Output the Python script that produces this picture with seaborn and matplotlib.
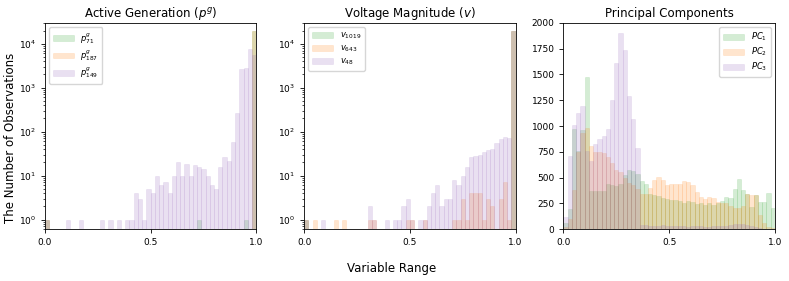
import numpy as np
import pandas as pd
import seaborn as sns
import matplotlib
matplotlib.use("Agg")
import matplotlib.pyplot as plt
from matplotlib.colors import to_rgba

# 50 equal bins on [0, 1], counts
n_bins = 50
edges = np.linspace(0, 1, n_bins + 1)
centers = (edges[:-1] + edges[1:]) / 2


def sparse(d):
    out = np.zeros(n_bins)
    for k, v in d.items():
        out[k] = v
    return out


# Active generation
gen_p71 = sparse({0: 1, 36: 1, 47: 1, 49: 19997})
gen_p187 = sparse({0: 1, 49: 19999})
gen_p149 = sparse({0: 1, 5: 1, 8: 1, 13: 1, 15: 1, 17: 1, 19: 1, 20: 1, 21: 4, 22: 3,
                   23: 1, 24: 5, 25: 4, 26: 10, 27: 6, 28: 7, 29: 4, 30: 10, 31: 20,
                   32: 10, 33: 18, 34: 10, 35: 17, 36: 16, 37: 14, 38: 10, 39: 6,
                   40: 5, 41: 16, 42: 27, 43: 22, 44: 58, 45: 265, 46: 2650,
                   47: 2800, 48: 7550, 49: 5400})

# Voltage magnitude
volt_v1019 = sparse({0: 1, 49: 19999})
volt_v643 = sparse({0: 1, 2: 1, 7: 1, 9: 1, 15: 1, 16: 1, 24: 1, 25: 1, 28: 1, 35: 1,
                    36: 1, 37: 3, 38: 1, 39: 4, 40: 4, 41: 4, 42: 1, 43: 3, 44: 2,
                    46: 3, 47: 7, 48: 1, 49: 19956})
volt_v48 = sparse({0: 1, 4: 1, 15: 2, 16: 1, 19: 1, 21: 1, 22: 1, 23: 2, 24: 3, 25: 1,
                   27: 1, 28: 1, 29: 2, 30: 4, 31: 6, 32: 2, 33: 3, 34: 3, 35: 8,
                   36: 6, 37: 10, 38: 16, 39: 26, 40: 28, 41: 30, 42: 34, 43: 39,
                   44: 40, 45: 55, 46: 68, 47: 76, 48: 73, 49: 19450})

# Principal components
pc1 = [60, 197, 975, 760, 965, 1470, 370, 375, 375, 370,
       440, 430, 420, 440, 530, 575, 565, 535, 470, 440,
       345, 335, 320, 300, 295, 285, 285, 275, 255, 270,
       260, 245, 250, 235, 255, 240, 250, 270, 310, 300,
       395, 485, 385, 345, 215, 330, 268, 268, 350, 205]
pc2 = [26, 97, 385, 752, 930, 980, 810, 750, 745, 735,
       700, 640, 575, 555, 495, 450, 430, 395, 345, 340,
       400, 475, 505, 480, 430, 435, 440, 440, 470, 455,
       430, 365, 315, 290, 310, 300, 268, 258, 255, 225,
       210, 205, 230, 345, 330, 335, 140, 58, 26, 10]
pc3 = [116, 710, 1010, 1125, 1195, 760, 660, 830, 870, 905,
       970, 1255, 1610, 1905, 1735, 1290, 1065, 785, 45, 40,
       35, 30, 35, 40, 35, 30, 35, 30, 30, 25,
       30, 30, 30, 25, 25, 30, 30, 30, 35, 40,
       50, 55, 50, 40, 30, 25, 10, 5, 3, 2]

colors = ["tab:green", "tab:orange", "tab:purple"]

panels = [
    ("Active Generation ($p^g$)", [gen_p71, gen_p187, gen_p149],
     [r"$p^g_{71}$", r"$p^g_{187}$", r"$p^g_{149}$"], True, "upper left"),
    ("Voltage Magnitude ($v$)", [volt_v1019, volt_v643, volt_v48],
     [r"$v_{1019}$", r"$v_{643}$", r"$v_{48}$"], True, "upper left"),
    ("Principal Components", [pc1, pc2, pc3],
     [r"$PC_1$", r"$PC_2$", r"$PC_3$"], False, "upper right"),
]

fig, axes = plt.subplots(1, 3, figsize=(7.89, 2.81), dpi=100)
plt.subplots_adjust(left=0.057, right=0.982, bottom=0.184, top=0.919, wspace=0.227)

for ax, (title, series, labels, logy, loc) in zip(axes, panels):
    for counts, lab, col in zip(series, labels, colors):
        df = pd.DataFrame({"x": centers, "w": np.asarray(counts, float)})
        sns.histplot(data=df, x="x", weights="w", bins=n_bins, binrange=(0, 1),
                     facecolor=to_rgba(col, 0.2), edgecolor=to_rgba(col, 0.12),
                     linewidth=0.6, label=lab, ax=ax)
    if logy:
        ax.set_yscale("log")
        ax.set_ylim(0.6, 3e4)
    else:
        ax.set_ylim(0, 2000)
        ax.set_yticks(np.arange(0, 2001, 250))
    ax.set_xlim(0, 1)
    ax.set_xticks([0, 0.5, 1.0])
    ax.set_title(title, fontsize=8.5, pad=4)
    ax.set_xlabel("")
    ax.set_ylabel("")
    ax.tick_params(labelsize=6.5, length=3, width=0.6)
    ax.tick_params(which="minor", length=1.5, width=0.5)
    for s in ax.spines.values():
        s.set_linewidth(0.6)
    ax.legend(loc=loc, fontsize=6, handlelength=2.5, borderpad=0.45, labelspacing=0.3)

fig.text(0.013, 0.51, "The Number of Observations", rotation=90, fontsize=8.5,
         ha="center", va="center")
fig.text(0.496, 0.046, "Variable Range", fontsize=8.5, ha="center", va="center")

plt.savefig("out.png", dpi=100)
